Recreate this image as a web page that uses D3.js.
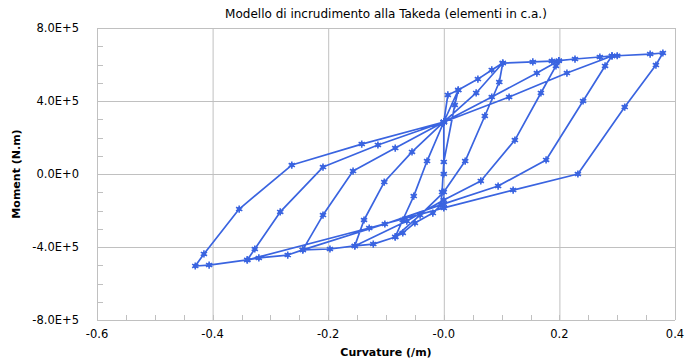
<!DOCTYPE html>
<html>
<head>
<meta charset="utf-8">
<script src="https://cdn.jsdelivr.net/npm/d3@7"></script>
<style>
  body { margin: 0; background: #fff; }
  text { font-family: "DejaVu Sans", Verdana, sans-serif; fill: #000; }
</style>
</head>
<body>
<div id="chart"></div>
<script>
const width = 700, height = 364;
const margin = { top: 28, right: 25, bottom: 44, left: 97 };

// curvature (/m) and moment (N.m), in loading order
const curvature = [
  0.000, 0.000, 0.007, 0.025,
  0.019, 0.000, -0.003, -0.005, -0.019, -0.050, -0.071, -0.084,
  -0.071, -0.052, -0.029, 0.000, 0.025, 0.059, 0.083, 0.102,
  0.096, 0.071, 0.037, 0.000, -0.041, -0.084, -0.122, -0.154,
  -0.138, -0.103, -0.055, 0.000, 0.056, 0.102, 0.154, 0.187, 0.199,
  0.194, 0.168, 0.123, 0.064, 0.000, -0.064, -0.154, -0.197, -0.244,
  -0.209, -0.157, -0.084, 0.000, 0.083, 0.161, 0.199, 0.227, 0.270, 0.291,
  0.279, 0.241, 0.177, 0.094, 0.000, -0.102, -0.244, -0.270, -0.320, -0.340,
  -0.327, -0.283, -0.209, -0.114, 0.000, 0.113, 0.213, 0.291, 0.300, 0.357, 0.379,
  0.367, 0.313, 0.232, 0.120, 0.000, -0.129, -0.340, -0.406, -0.430,
  -0.415, -0.354, -0.263, -0.142, 0.000
];
const moment = [
  0, 2.85e5, 4.33e5, 4.60e5,
  3.78e5, 0.66e5, -0.99e5, -1.70e5, -2.14e5, -2.68e5, -3.23e5, -3.45e5,
  -2.52e5, -1.21e5, 0.71e5, 2.85e5, 4.60e5, 5.20e5, 5.70e5, 6.08e5,
  5.04e5, 3.18e5, 0.71e5, -0.99e5, -2.25e5, -3.45e5, -3.84e5, -3.94e5,
  -2.52e5, -0.44e5, 1.21e5, 2.85e5, 4.44e5, 6.08e5, 6.14e5, 6.19e5, 6.21e5,
  5.92e5, 4.44e5, 1.86e5, -0.38e5, -1.42e5, -2.58e5, -3.94e5, -4.11e5, -4.16e5,
  -2.25e5, 0.16e5, 1.42e5, 2.85e5, 4.22e5, 5.53e5, 6.21e5, 6.30e5, 6.41e5, 6.47e5,
  5.92e5, 4.00e5, 0.77e5, -0.66e5, -1.64e5, -2.74e5, -4.16e5, -4.44e5, -4.60e5, -4.71e5,
  -4.11e5, -2.08e5, 0.38e5, 1.59e5, 2.85e5, 4.22e5, 5.53e5, 6.47e5, 6.48e5, 6.57e5, 6.63e5,
  5.97e5, 3.67e5, 0, -0.88e5, -1.86e5, -2.96e5, -4.71e5, -4.99e5, -5.04e5,
  -4.38e5, -1.92e5, 0.49e5, 1.64e5, 2.85e5
];

const xTicks = [-0.6, -0.4, -0.2, 0, 0.2, 0.4];
const xTickLabels = ["-0.6", "-0.4", "-0.2", "-0.0", "0.2", "0.4"];
const yTicks = [-8e5, -4e5, 0, 4e5, 8e5];
const yTickLabels = ["-8.0E+5", "-4.0E+5", "0.0E+0", "4.0E+5", "8.0E+5"];

const data = curvature.map((c, i) => ({ x: c, y: moment[i] }));

const x = d3.scaleLinear().domain([-0.6, 0.4]).range([margin.left, width - margin.right]);
const y = d3.scaleLinear().domain([-8e5, 8e5]).range([height - margin.bottom, margin.top]);

const svg = d3.select("#chart").append("svg")
  .attr("width", width)
  .attr("height", height);

const grid = "#c0c0c0";

// grid lines
svg.append("g")
  .selectAll("line")
  .data(xTicks)
  .join("line")
  .attr("x1", d => x(d) + 0.5).attr("x2", d => x(d) + 0.5)
  .attr("y1", y(8e5)).attr("y2", y(-8e5))
  .attr("stroke", grid);

svg.append("g")
  .selectAll("line")
  .data(yTicks)
  .join("line")
  .attr("x1", x(-0.6)).attr("x2", x(0.4))
  .attr("y1", d => y(d) + 0.5).attr("y2", d => y(d) + 0.5)
  .attr("stroke", grid);

// minor ticks
const xMinor = d3.range(-0.6, 0.4001, 0.05);
svg.append("g")
  .selectAll("line")
  .data(xMinor)
  .join("line")
  .attr("x1", d => Math.round(x(d)) + 0.5).attr("x2", d => Math.round(x(d)) + 0.5)
  .attr("y1", y(-8e5)).attr("y2", y(-8e5) - 5)
  .attr("stroke", grid);

const yMinor = d3.range(-8e5, 8.01e5, 1e5);
svg.append("g")
  .selectAll("line")
  .data(yMinor)
  .join("line")
  .attr("x1", x(-0.6)).attr("x2", x(-0.6) + 6)
  .attr("y1", d => Math.round(y(d)) + 0.5).attr("y2", d => Math.round(y(d)) + 0.5)
  .attr("stroke", grid);

// tick labels
svg.append("g")
  .selectAll("text")
  .data(xTicks)
  .join("text")
  .attr("x", d => x(d))
  .attr("y", height - margin.bottom + 18)
  .attr("text-anchor", "middle")
  .attr("font-size", 11.5)
  .text((d, i) => xTickLabels[i]);

svg.append("g")
  .selectAll("text")
  .data(yTicks)
  .join("text")
  .attr("x", margin.left - 18)
  .attr("y", d => y(d) + 4)
  .attr("text-anchor", "end")
  .attr("font-size", 11.5)
  .text((d, i) => yTickLabels[i]);

// titles
svg.append("text")
  .attr("x", (x(-0.6) + x(0.4)) / 2)
  .attr("y", 18)
  .attr("text-anchor", "middle")
  .attr("font-size", 12)
  .text("Modello di incrudimento alla Takeda (elementi in c.a.)");

svg.append("text")
  .attr("x", (x(-0.6) + x(0.4)) / 2)
  .attr("y", height - 8)
  .attr("text-anchor", "middle")
  .attr("font-size", 11)
  .attr("font-weight", "bold")
  .attr("fill", "#222")
  .text("Curvature (/m)");

svg.append("text")
  .attr("transform", "translate(20," + y(0) + ") rotate(-90)")
  .attr("text-anchor", "middle")
  .attr("font-size", 11)
  .attr("font-weight", "bold")
  .attr("fill", "#222")
  .text("Moment (N.m)");

// series
const blue = "#3a64e0";
const line = d3.line().x(d => x(d.x)).y(d => y(d.y));

svg.append("path")
  .datum(data)
  .attr("d", line)
  .attr("fill", "none")
  .attr("stroke", blue)
  .attr("stroke-width", 1.7)
  .attr("stroke-linejoin", "round");

const star = d3.symbol().type(d3.symbolAsterisk).size(36);
const markers = svg.append("g")
  .selectAll("g")
  .data(data)
  .join("g")
  .attr("transform", d => "translate(" + x(d.x) + "," + y(d.y) + ")");

markers.append("circle")
  .attr("r", 2.2)
  .attr("fill", blue);

markers.append("path")
  .attr("d", star)
  .attr("fill", "none")
  .attr("stroke", blue)
  .attr("stroke-width", 1.6);
</script>
</body>
</html>
